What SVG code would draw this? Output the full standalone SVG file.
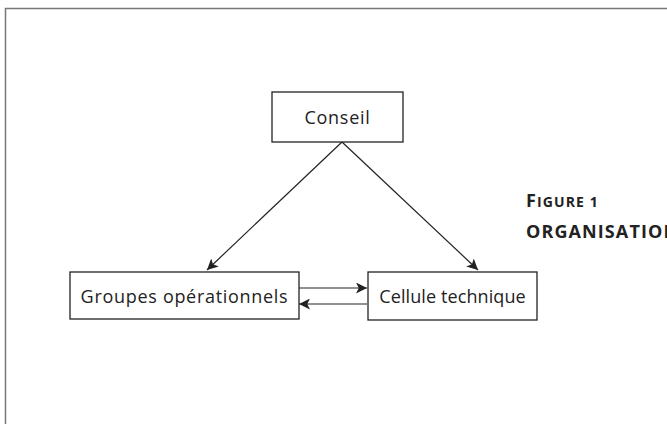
<svg xmlns="http://www.w3.org/2000/svg" width="667" height="424" viewBox="0 0 667 424">
<style>
.box{fill:#fff;stroke:#222;stroke-width:1.3}
.lbl{font-family:"Open Sans","Noto Sans",sans-serif;font-size:18px;letter-spacing:0.7px;fill:#222;text-anchor:middle}
.edge{stroke:#222;stroke-width:1.2;fill:none;marker-end:url(#ah)}
.cap{font-family:"Open Sans","Noto Sans",sans-serif;font-weight:bold;fill:#222;font-size:18px;letter-spacing:1.1px}
.sc{font-size:14px}
</style>
<defs>
<marker id="ah" viewBox="0 0 10 10" refX="10" refY="5" markerWidth="11" markerHeight="11" markerUnits="userSpaceOnUse" orient="auto">
<path d="M0,0 L10,5 L0,10 L2.5,5 z" fill="#222"/>
</marker>
</defs>
<rect width="667" height="424" fill="#fff"/>
<path d="M5.5,424 V8.5 H667" fill="none" stroke="#777" stroke-width="1.5"/>
<g id="connectors">
<line class="edge" x1="342" y1="142" x2="207" y2="270"/>
<line class="edge" x1="342" y1="142" x2="478" y2="270"/>
<line class="edge" x1="299" y1="288" x2="367" y2="288"/>
<line class="edge" x1="367" y1="304" x2="299" y2="304"/>
</g>
<g id="conseil">
<rect class="box" x="272" y="92" width="131" height="50"/>
<text class="lbl" x="337.5" y="124">Conseil</text>
</g>
<g id="groupes">
<rect class="box" x="70" y="272" width="229" height="47"/>
<text class="lbl" x="184.5" y="303">Groupes opérationnels</text>
</g>
<g id="cellule">
<rect class="box" x="368" y="272" width="169" height="48"/>
<text class="lbl" x="452.5" y="303" style="letter-spacing:0.1px">Cellule technique</text>
</g>
<g id="caption">
<text class="cap" x="526" y="207">F<tspan class="sc">IGURE 1</tspan></text>
<text class="cap" x="526" y="238">ORGANISATION</text>
</g>
</svg>
